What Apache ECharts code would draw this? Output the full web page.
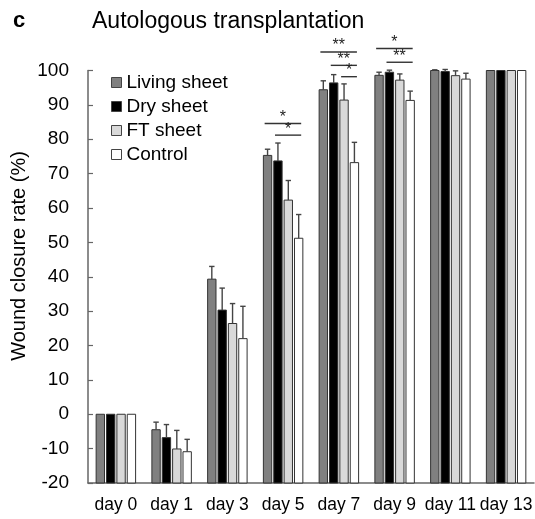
<!DOCTYPE html>
<html>
<head>
<meta charset="utf-8">
<script src="https://cdn.jsdelivr.net/npm/echarts@6/dist/echarts.min.js"></script>
<style>html,body{margin:0;padding:0;background:#fff;}#c{width:535px;height:519px;}</style>
</head>
<body>
<div id="c"></div>
<script>
const categories = ['day 0','day 1','day 3','day 5','day 7','day 9','day 11','day 13'];
const seriesNames = ['Living sheet','Dry sheet','FT sheet','Control'];
const living     = [0, -4.5, 39.3, 75.3, 94.4, 98.6, 100.0, 100];
const livingErr  = [0,  2.2,  3.7,  1.8,  2.6,  0.9,   0.2,   0];
const dry        = [0, -6.8, 30.3, 73.7, 96.4, 99.5,  99.7, 100];
const dryErr     = [0,  3.8,  6.4,  5.2,  2.4,  0.6,   0.6,   0];
const ft         = [0, -10.1, 26.4, 62.3, 91.4, 97.2, 98.5, 100];
const ftErr      = [0,  5.4,  5.8,  5.7,  4.7,  1.8,   1.4,   0];
const control    = [0, -10.9, 22.0, 51.2, 73.2, 91.3, 97.5, 100];
const controlErr = [0,  3.6,  9.4,  6.9,  5.9,  2.7,   1.7,   0];
// significance brackets: each compares a group against Control
const sigDay   = [3, 3, 4, 4, 4, 5, 5];
const sigFrom  = [0, 1, 0, 1, 2, 0, 1];
const sigLevel = [84.6, 81.2, 105.4, 101.5, 98.2, 106.4, 102.4];
const sigLabel = ['*', '*', '**', '**', '*', '*', '**'];

const valueSets = [living, dry, ft, control];
const errSets = [livingErr, dryErr, ftErr, controlErr];
const colors = ['#808080', '#000000', '#d9d9d9', '#ffffff'];
const FONT = "'Liberation Sans', Arial, sans-serif";
const YMIN = -20;
const STEP = 0.186, BW = 0.15;

function barRender(si) {
  return function (params, api) {
    const cat = api.value(0), v = api.value(1), e = api.value(2);
    const band = api.size([1, 0])[0];
    const base = api.coord([cat, YMIN]);
    const top = api.coord([cat, v]);
    const cx = base[0] + (si - 1.5) * STEP * band;
    const bw = BW * band;
    const children = [{
      type: 'rect',
      shape: { x: cx - bw / 2, y: top[1], width: bw, height: base[1] - top[1] },
      style: { fill: colors[si], stroke: '#333', lineWidth: 1 }
    }];
    if (e > 0) {
      const et = api.coord([cat, v + e]);
      children.push({ type: 'line', shape: { x1: cx, y1: top[1], x2: cx, y2: et[1] }, style: { stroke: '#444', lineWidth: 1.4 } });
      children.push({ type: 'line', shape: { x1: cx - 2.7, y1: et[1], x2: cx + 2.7, y2: et[1] }, style: { stroke: '#444', lineWidth: 1.4 } });
    }
    return { type: 'group', children: children };
  };
}

const series = seriesNames.map(function (name, si) {
  return {
    name: name,
    type: 'custom',
    renderItem: barRender(si),
    itemStyle: { color: colors[si], borderColor: '#333', borderWidth: 1 },
    encode: { x: 0, y: 1 },
    clip: false,
    data: categories.map(function (c, i) { return [i, valueSets[si][i], errSets[si][i]]; }),
    z: 2
  };
});

series.push({
  name: 'sig',
  type: 'custom',
  clip: false,
  encode: { x: 0, y: 3 },
  renderItem: function (params, api) {
    const cat = api.value(0), from = api.value(1), to = api.value(2), lvl = api.value(3);
    const band = api.size([1, 0])[0];
    const p = api.coord([cat, lvl]);
    const x1 = p[0] + (from - 1.5) * STEP * band - 0.35 * BW * band;
    const x2 = p[0] + (to - 1.5) * STEP * band + 0.3 * BW * band;
    return {
      type: 'group',
      children: [
        { type: 'line', shape: { x1: x1, y1: p[1], x2: x2, y2: p[1] }, style: { stroke: '#333', lineWidth: 1.4 } },
        { type: 'text', x: (x1 + x2) / 2, y: p[1] + 2, style: { text: sigLabel[params.dataIndex], fill: '#222', font: '16px ' + FONT, textAlign: 'center', textVerticalAlign: 'bottom' } }
      ]
    };
  },
  data: sigDay.map(function (d, i) { return [d, sigFrom[i], 3, sigLevel[i]]; }),
  z: 3
});

const chart = echarts.init(document.getElementById('c'), null, { renderer: 'canvas' });
chart.setOption({
  animation: false,
  backgroundColor: '#fff',
  title: [
    { text: 'c', left: 8, top: 5, textStyle: { fontFamily: FONT, fontSize: 22, fontWeight: 'bold', color: '#000' } },
    { text: 'Autologous transplantation', left: 87, top: 5, textStyle: { fontFamily: FONT, fontSize: 23, fontWeight: 'normal', color: '#000' } }
  ],
  graphic: [{
    type: 'text', x: 19, y: 256, rotation: Math.PI / 2,
    style: { text: 'Wound closure rate (%)', font: '20px ' + FONT, fill: '#000', textAlign: 'center', textVerticalAlign: 'middle' }
  }],
  legend: {
    data: seriesNames,
    orient: 'vertical',
    left: 106, top: 68,
    itemWidth: 10, itemHeight: 10, itemGap: 5,
    icon: 'rect',
    itemStyle: { borderColor: '#444', borderWidth: 1 },
    textStyle: { fontFamily: FONT, fontSize: 19, color: '#000', padding: [0, 0, 0, 0] }
  },
  grid: { left: 88, right: -5, top: 70.5, bottom: 36, containLabel: false },
  xAxis: {
    type: 'category',
    data: categories,
    boundaryGap: true,
    axisLine: { onZero: false, lineStyle: { color: '#666', width: 1.5 } },
    axisTick: { show: false },
    axisLabel: { fontFamily: FONT, fontSize: 17.5, color: '#000', margin: 13, interval: 0 }
  },
  yAxis: {
    type: 'value',
    min: -20, max: 100, interval: 10,
    splitLine: { show: false },
    axisLine: { show: true, lineStyle: { color: '#666', width: 1.5 } },
    axisTick: { show: true, inside: true, length: 5, lineStyle: { color: '#666', width: 1.2 } },
    axisLabel: { fontFamily: FONT, fontSize: 19, color: '#000', margin: 19 }
  },
  series: series
});
</script>
</body>
</html>
